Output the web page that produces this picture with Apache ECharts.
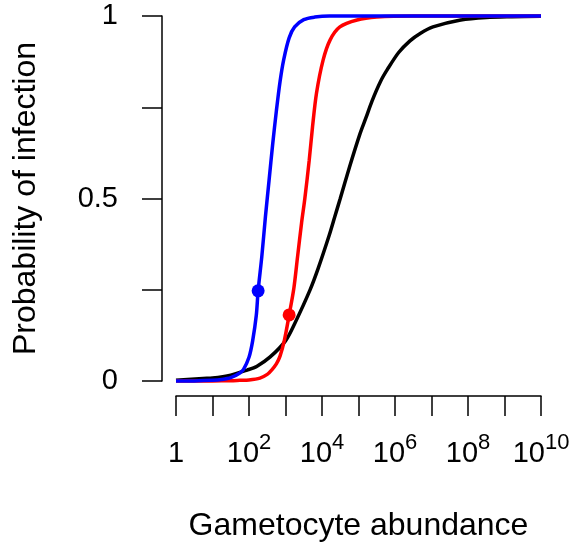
<!DOCTYPE html>
<html>
<head>
<meta charset="utf-8">
<script src="https://cdn.jsdelivr.net/npm/echarts@6/dist/echarts.min.js"></script>
<style>html,body{margin:0;padding:0;background:#fff}#c{width:573px;height:552px}</style>
</head>
<body>
<div id="c"></div>
<script>
// x values are log10(gametocyte abundance)
var xTicks = [0,1,2,3,4,5,6,7,8,9,10];
var yTicks = [0,0.25,0.5,0.75,1];
var yTickLabels = {"0":"0","0.5":"0.5","1":"1"};

var blueX = [0,0.5,1.0,1.25,1.5,1.75,1.85,2.0,2.1,2.2,2.25,2.35,2.45,2.55,2.65,2.75,2.85,2.95,3.1,3.25,3.5,3.8,4.2,5,10];
var blueP = [0,0.0003,0.002,0.004,0.009,0.022,0.032,0.065,0.11,0.18,0.247,0.34,0.45,0.55,0.65,0.74,0.82,0.88,0.94,0.97,0.99,0.997,1.0,1.0,1.0];

var redX = [0,1.0,1.5,1.75,2.0,2.3,2.5,2.62,2.75,2.85,2.97,3.10,3.23,3.33,3.44,3.53,3.65,3.74,3.85,4.03,4.22,4.49,4.96,5.5,6.5,10];
var redP = [0,0.0003,0.001,0.002,0.003,0.008,0.018,0.03,0.047,0.068,0.112,0.181,0.255,0.34,0.433,0.50,0.605,0.696,0.789,0.879,0.934,0.97,0.989,0.997,1.0,1.0];

var blackX = [0,0.74,1.0,1.5,1.95,2.21,2.58,3.0,3.26,3.67,3.9,4.2,4.35,4.5,4.75,5.04,5.2,5.37,5.6,5.8,6.1,6.41,6.7,7.04,7.8,8.5,9.2,10];
var blackP = [0.002,0.007,0.008,0.016,0.03,0.04,0.066,0.11,0.159,0.249,0.31,0.40,0.45,0.50,0.585,0.677,0.72,0.767,0.82,0.855,0.90,0.932,0.953,0.97,0.989,0.996,0.998,0.999];

var bluePointX = 2.25, bluePointP = 0.247;
var redPointX = 3.10, redPointP = 0.181;

function pairs(xs, ys){ return xs.map(function(x,i){ return [x, ys[i]]; }); }

var FONT = '"Liberation Sans", Arial, Helvetica, sans-serif';
var LABEL = 29, SUP = 22, TITLE = 32;
var chart = echarts.init(document.getElementById('c'));
chart.setOption({
  animation: false,
  backgroundColor: '#ffffff',
  grid: { left: 176, right: 32, top: 16, bottom: 171, containLabel: false },
  xAxis: {
    type: 'value', min: 0, max: 10, interval: 1, offset: 15,
    name: 'Gametocyte abundance', nameLocation: 'middle', nameGap: 114,
    nameTextStyle: { fontFamily: FONT, fontSize: TITLE, color: '#000' },
    axisLine: { show: true, onZero: false, lineStyle: { color: '#000', width: 1.5 } },
    axisTick: { show: true, inside: false, length: 20, lineStyle: { color: '#000', width: 1.5 } },
    splitLine: { show: false },
    axisLabel: {
      margin: 43, color: '#000', fontFamily: FONT, fontSize: LABEL,
      showMinLabel: true, showMaxLabel: true,
      formatter: function(v){
        if (v % 2 !== 0) return '';
        if (v === 0) return '{b|1}';
        return '{b|10}{s|' + v + '}';
      },
      rich: {
        b: { fontFamily: FONT, fontSize: LABEL, color: '#000', lineHeight: 30 },
        s: { fontFamily: FONT, fontSize: SUP, color: '#000', padding: [0,0,22,0], lineHeight: 22 }
      }
    }
  },
  yAxis: {
    type: 'value', min: 0, max: 1, interval: 0.25, offset: 14,
    name: 'Probability of infection', nameLocation: 'middle', nameGap: 120,
    nameTextStyle: { fontFamily: FONT, fontSize: TITLE, color: '#000' },
    axisLine: { show: true, onZero: false, lineStyle: { color: '#000', width: 1.5 } },
    axisTick: { show: true, inside: false, length: 20, lineStyle: { color: '#000', width: 1.5 } },
    splitLine: { show: false },
    axisLabel: {
      margin: 44, color: '#000', fontFamily: FONT, fontSize: LABEL,
      showMinLabel: true, showMaxLabel: true,
      formatter: function(v){ var k = String(v); return yTickLabels.hasOwnProperty(k) ? yTickLabels[k] : ''; }
    }
  },
  series: [
    { type: 'line', data: pairs(blackX, blackP), smooth: 0.3, showSymbol: false, clip: false,
      lineStyle: { color: '#000000', width: 3.5 }, itemStyle: { color: '#000000' }, z: 2 },
    { type: 'line', data: pairs(redX, redP), smooth: 0.3, showSymbol: false, clip: false,
      lineStyle: { color: '#ff0000', width: 3.5 }, itemStyle: { color: '#ff0000' }, z: 3 },
    { type: 'line', data: pairs(blueX, blueP), smooth: 0.3, showSymbol: false, clip: false,
      lineStyle: { color: '#0000ff', width: 3.5 }, itemStyle: { color: '#0000ff' }, z: 4 },
    { type: 'scatter', data: [[redPointX, redPointP]], symbol: 'circle', symbolSize: 13,
      itemStyle: { color: '#ff0000', opacity: 1 }, z: 5, clip: false },
    { type: 'scatter', data: [[bluePointX, bluePointP]], symbol: 'circle', symbolSize: 13,
      itemStyle: { color: '#0000ff', opacity: 1 }, z: 5, clip: false }
  ]
});
</script>
</body>
</html>
